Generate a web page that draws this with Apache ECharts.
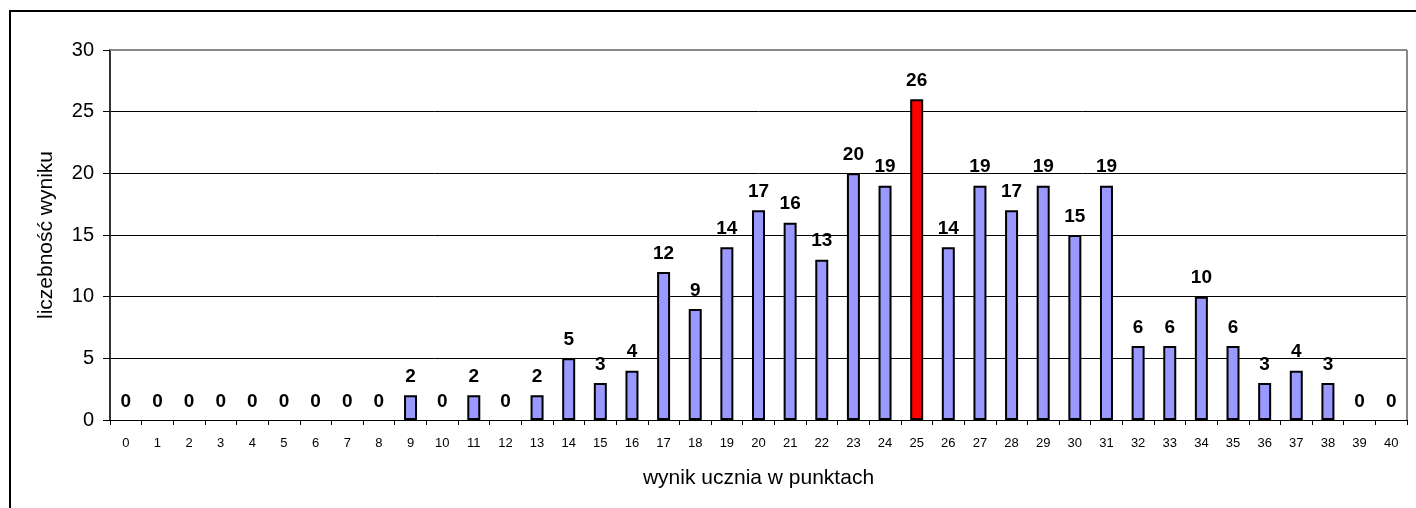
<!DOCTYPE html>
<html>
<head>
<meta charset="utf-8">
<script src="https://cdn.jsdelivr.net/npm/echarts@6/dist/echarts.min.js"></script>
<style>
  html, body { margin: 0; padding: 0; background: #fff; }
  #frame { position: absolute; left: 9px; top: 10px; width: 1420px; height: 510px; border: 2px solid #000; box-sizing: border-box; }
  #chart { position: absolute; left: 0; top: 0; width: 1416px; height: 508px; }
</style>
</head>
<body>
<div id="frame"></div>
<div id="chart"></div>
<script>
// wynik ucznia 0..40 i liczba uczniow
const scores = ['0','1','2','3','4','5','6','7','8','9','10','11','12','13','14','15','16','17','18','19','20',
  '21','22','23','24','25','26','27','28','29','30','31','32','33','34','35','36','37','38','39','40'];
const counts = [0,0,0,0,0,0,0,0,0,2,0,2,0,2,5,3,4,12,9,14,17,16,13,20,19,26,14,19,17,19,15,19,6,6,10,6,3,4,3,0,0];
const highlight = '25'; // najczestszy wynik
const yTicks = [0, 30, 5];

const chart = echarts.init(document.getElementById('chart'));

const option = {
  animation: false,
  grid: { left: 110, right: 9, top: 50, bottom: 88 },
  xAxis: {
    type: 'category',
    data: scores,
    name: 'wynik ucznia w punktach',
    nameLocation: 'middle',
    nameGap: 48,
    nameTextStyle: { fontFamily: 'Liberation Sans', fontSize: 21, color: '#000' },
    axisLine: { lineStyle: { color: '#000', width: 1 } },
    axisTick: { show: true, length: 5, lineStyle: { color: '#000' } },
    axisLabel: { interval: 0, fontFamily: 'Liberation Sans', fontSize: 13, color: '#000', margin: 17 }
  },
  yAxis: {
    type: 'value',
    min: yTicks[0], max: yTicks[1], interval: yTicks[2],
    name: 'liczebność wyniku',
    nameLocation: 'middle',
    nameGap: 53,
    nameTextStyle: { fontFamily: 'Liberation Sans', fontSize: 21, color: '#000' },
    axisLine: { show: true, lineStyle: { color: '#333', width: 2 } },
    axisTick: { show: true, length: 7, lineStyle: { color: '#000' } },
    axisLabel: { fontFamily: 'Liberation Sans', fontSize: 20, color: '#000', margin: 16 },
    splitLine: { lineStyle: { color: '#000', width: 1 } }
  },
  series: [{
    type: 'bar',
    barWidth: 13,
    data: counts.map((v, i) => ({
      value: v,
      itemStyle: {
        color: scores[i] === highlight ? '#ff0000' : '#9999ff',
        borderWidth: v === 0 ? 0 : 2
      }
    })),
    itemStyle: { borderColor: '#000', borderWidth: 2 },
    label: {
      show: true,
      position: 'top',
      distance: 9,
      fontFamily: 'Liberation Sans',
      fontWeight: 'bold',
      fontSize: 19,
      color: '#000'
    }
  }],
  graphic: [
    { type: 'line', z: 100, shape: { x1: 110, y1: 50, x2: 1407, y2: 50 }, style: { stroke: '#888', lineWidth: 2 } },
    { type: 'line', z: 100, shape: { x1: 1407, y1: 50, x2: 1407, y2: 420 }, style: { stroke: '#888', lineWidth: 2 } }
  ]
};

chart.setOption(option);
</script>
</body>
</html>
